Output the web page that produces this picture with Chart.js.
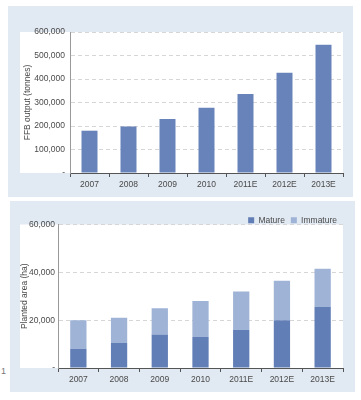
<!DOCTYPE html>
<html>
<head>
<meta charset="utf-8">
<script src="https://cdn.jsdelivr.net/npm/chart.js@4"></script>
<style>
  body { margin: 0; background: #fff; width: 361px; height: 400px; position: relative; overflow: hidden; font-family: "Liberation Sans", Arial, sans-serif; }
  .panel { position: absolute; background: #e1e9f2; }
  #p1 { left: 8px; top: 6px; width: 345px; height: 191px; }
  #p2 { left: 10px; top: 201px; width: 345px; height: 191px; }
  .stray { position: absolute; left: 1px; top: 366px; font-size: 9px; color: #777; }
</style>
</head>
<body>
<div class="panel" id="p1"><canvas id="c1" width="345" height="191"></canvas></div>
<div class="panel" id="p2"><canvas id="c2" width="345" height="191"></canvas></div>
<div class="stray">1</div>
<script>
// data
const years = ['2007', '2008', '2009', '2010', '2011E', '2012E', '2013E'];
const ffbOutput = [180000, 198000, 230000, 278000, 336000, 427000, 546000];
const matureArea = [8000, 10500, 14000, 13000, 16000, 20000, 25500];
const immatureArea = [12000, 10500, 11000, 15000, 16000, 16500, 16000];

const FONT = { family: '"Liberation Sans", Arial, sans-serif', size: 8.5 };
const TEXT = '#4a4a4a';

// white plot box behind the bars, reaching left under the tick labels
const plotBg = {
    id: 'plotBg',
    beforeDraw(chart, args, opts) {
        const { ctx, chartArea: a } = chart;
        ctx.save();
        ctx.fillStyle = '#ffffff';
        ctx.fillRect(opts.left, a.top, a.right - opts.left, a.bottom - a.top);
        ctx.restore();
    }
};

// trims legend block height so the plot sits close under it
const legendFit = {
    id: 'legendFit',
    beforeInit(chart, args, opts) {
        if (!chart.legend) return;
        const fit = chart.legend.fit;
        chart.legend.fit = function () {
            fit.call(this);
            this.height += opts.extra || 0;
        };
    }
};

function tickFmt(v) {
    return v === 0 ? '-' : v.toLocaleString('en-US');
}

function scales(yTitle, yMax, yStep, yWidth, titlePad, tickPad) {
    return {
        x: {
            offset: true,
            grid: { offset: true, drawOnChartArea: false, drawTicks: true, tickLength: 4, color: '#555' },
            border: { color: '#555', width: 1 },
            ticks: { color: TEXT, font: FONT, padding: 3, maxRotation: 0 },
            afterFit: s => { s.height = 24; }
        },
        y: {
            min: 0, max: yMax,
            stacked: true,
            grid: { color: '#d6d6d6', drawTicks: false, lineWidth: 1 },
            border: { color: '#999', dash: [4, 3] },
            ticks: { stepSize: yStep, color: TEXT, font: FONT, padding: tickPad, callback: tickFmt },
            title: { display: true, text: yTitle, color: TEXT, font: FONT, padding: { top: titlePad, bottom: 0 } },
            afterFit: s => { s.width = yWidth; }
        }
    };
}

new Chart(document.getElementById('c1'), {
    type: 'bar',
    data: {
        labels: years,
        datasets: [{
            label: 'FFB output',
            data: ffbOutput,
            backgroundColor: '#6883ba',
            categoryPercentage: 1,
            barPercentage: 0.41
        }]
    },
    options: {
        responsive: false,
        animation: false,
        layout: { padding: { left: 0, right: 10, top: 26, bottom: 0 } },
        plugins: { legend: { display: false }, tooltip: { enabled: false }, plotBg: { left: 12 } },
        scales: scales('FFB output (tonnes)', 600000, 100000, 62, 15, 5)
    },
    plugins: [plotBg]
});

const s2 = scales('Planted area (ha)', 60000, 20000, 48, 10, 3);
s2.x.stacked = true;

new Chart(document.getElementById('c2'), {
    type: 'bar',
    data: {
        labels: years,
        datasets: [
            { label: 'Mature', data: matureArea, backgroundColor: '#627eb6', categoryPercentage: 1, barPercentage: 0.4 },
            { label: 'Immature', data: immatureArea, backgroundColor: '#9fb3d6', categoryPercentage: 1, barPercentage: 0.4 }
        ]
    },
    options: {
        responsive: false,
        animation: false,
        layout: { padding: { left: 0, right: 12, top: 9, bottom: 0 } },
        plugins: {
            legend: {
                position: 'top',
                align: 'end',
                labels: { boxWidth: 6, boxHeight: 6, padding: 6, color: TEXT, font: FONT }
            },
            legendFit: { extra: -10 },
            tooltip: { enabled: false },
            plotBg: { left: 10 }
        },
        scales: s2
    },
    plugins: [plotBg, legendFit]
});
</script>
</body>
</html>
